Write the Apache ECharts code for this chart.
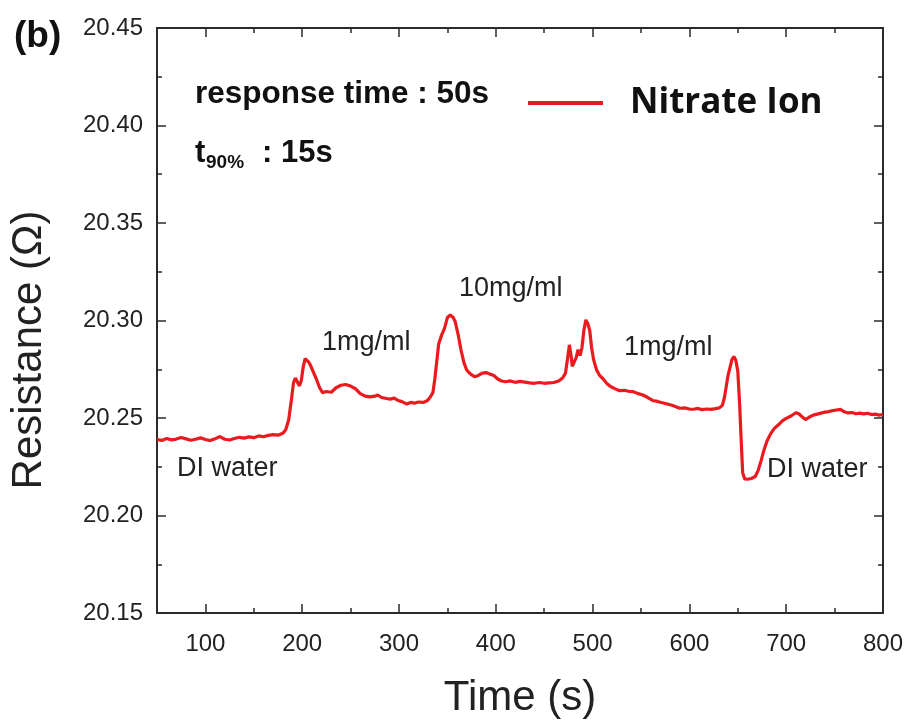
<!DOCTYPE html>
<html>
<head>
<meta charset="utf-8">
<script src="https://cdn.jsdelivr.net/npm/echarts@6/dist/echarts.min.js"></script>
<style>
  html, body { margin: 0; padding: 0; background: #fff; }
  #chart { width: 914px; height: 724px; }
</style>
</head>
<body>
<div id="chart"></div>
<script>
// Resistance response of the sensor to nitrate ion concentration steps
const seriesName = 'Nitrate Ion';

const timeSec = [
  50, 55, 60, 65, 70, 75, 80, 85, 90, 95, 100, 105, 110, 115, 120, 125, 130, 135, 140, 145,
  150, 155, 160, 165, 170, 175, 180, 183, 186, 189, 191, 193, 195, 197, 199, 201, 203, 205,
  207, 209, 212, 215, 218, 221, 225, 230, 235, 240, 245, 250, 255, 260, 265, 270, 275, 278,
  282, 287, 291, 295, 299, 303, 308, 312, 316, 320, 325, 329, 332, 335, 337, 339, 341, 344,
  347, 350, 353, 356, 358, 361, 364, 367, 370, 374, 378, 382, 386, 390, 394, 398, 402, 406,
  410, 415, 420, 425, 430, 435, 440, 445, 450, 455, 460, 465, 469, 472, 474, 476, 477.5, 479,
  481, 483, 485, 487, 489, 491, 493, 495, 497, 499, 501, 504, 507, 511, 515, 519, 524, 528,
  533, 538, 542, 547, 552, 557, 562, 567, 572, 577, 582, 586, 590, 595, 600, 604, 609, 613,
  618, 622, 627, 631, 634, 636, 638, 640, 642, 644, 646, 648, 650, 651, 652, 653, 654, 655,
  657, 660, 664, 668, 671, 674, 677, 680, 684, 688, 692, 696, 700, 705, 710, 713, 716, 720,
  724, 728, 732, 736, 740, 744, 748, 752, 756, 760, 764, 768, 772, 776, 780, 784, 788, 792,
  796, 800
];

const resistance = [
  20.2390, 20.2385, 20.2395, 20.2388, 20.2392, 20.2400, 20.2393, 20.2386, 20.2391, 20.2398,
  20.2390, 20.2384, 20.2393, 20.2405, 20.2391, 20.2387, 20.2395, 20.2401, 20.2397, 20.2403,
  20.2399, 20.2408, 20.2404, 20.2411, 20.2415, 20.2412, 20.2422, 20.2440, 20.2490, 20.2600,
  20.2680, 20.2705, 20.2695, 20.2665, 20.2690, 20.2760, 20.2805, 20.2800, 20.2785, 20.2765,
  20.2730, 20.2695, 20.2655, 20.2630, 20.2636, 20.2632, 20.2655, 20.2668, 20.2672, 20.2664,
  20.2650, 20.2625, 20.2612, 20.2608, 20.2612, 20.2618, 20.2605, 20.2600, 20.2597, 20.2602,
  20.2590, 20.2584, 20.2572, 20.2580, 20.2576, 20.2582, 20.2580, 20.2588, 20.2605, 20.2630,
  20.2700, 20.2790, 20.2880, 20.2925, 20.2960, 20.3015, 20.3028, 20.3015, 20.2995, 20.2930,
  20.2850, 20.2785, 20.2745, 20.2725, 20.2712, 20.2718, 20.2730, 20.2733, 20.2725, 20.2718,
  20.2700, 20.2690, 20.2686, 20.2690, 20.2683, 20.2688, 20.2684, 20.2680, 20.2678, 20.2682,
  20.2678, 20.2680, 20.2682, 20.2690, 20.2705, 20.2730, 20.2800, 20.2875, 20.2830, 20.2765,
  20.2775, 20.2810, 20.2850, 20.2820, 20.2860, 20.2950, 20.3003, 20.2985, 20.2950, 20.2860,
  20.2800, 20.2748, 20.2720, 20.2700, 20.2675, 20.2660, 20.2648, 20.2640, 20.2642, 20.2636,
  20.2635, 20.2625, 20.2618, 20.2605, 20.2590, 20.2585, 20.2578, 20.2572, 20.2565, 20.2558,
  20.2550, 20.2552, 20.2546, 20.2545, 20.2549, 20.2543, 20.2546, 20.2544, 20.2548, 20.2552,
  20.2565, 20.2600, 20.2660, 20.2720, 20.2760, 20.2800, 20.2815, 20.2795, 20.2740, 20.2650,
  20.2560, 20.2440, 20.2330, 20.2220, 20.2188, 20.2186, 20.2190, 20.2200, 20.2230, 20.2280,
  20.2335, 20.2380, 20.2420, 20.2448, 20.2465, 20.2485, 20.2498, 20.2510, 20.2527, 20.2522,
  20.2508, 20.2492, 20.2505, 20.2515, 20.2520, 20.2525, 20.2530, 20.2533, 20.2538, 20.2541,
  20.2544, 20.2532, 20.2526, 20.2528, 20.2522, 20.2525, 20.2521, 20.2524, 20.2518, 20.2520,
  20.2515, 20.2518
];

const xMajorTicks = [100, 200, 300, 400, 500, 600, 700, 800];
const xMinorTicks = [50, 150, 250, 350, 450, 550, 650, 750];
const yTickLabels = ['20.15', '20.20', '20.25', '20.30', '20.35', '20.40', '20.45'];

const xRange = [50, 800];
const yRange = [20.15, 20.45];

const annotations = [
  { text: 'DI water', x: 177, y: 469 },
  { text: '1mg/ml', x: 322, y: 343 },
  { text: '10mg/ml', x: 459, y: 289 },
  { text: '1mg/ml', x: 624, y: 348 },
  { text: 'DI water', x: 767, y: 470 }
];

const AXIS_COLOR = '#2b2b2b';
const LINE_COLOR = '#ea1a1f';
const TEXT_COLOR = '#222';
const TICK_FONT = 'Liberation Sans, Arial, sans-serif';

const chart = echarts.init(document.getElementById('chart'), null, { renderer: 'canvas' });

function xAxisDef(position, values, len, withLabels, withLine) {
  return {
    type: 'value', position: position, min: xRange[0], max: xRange[1],
    axisLine: { show: withLine, onZero: false, lineStyle: { color: AXIS_COLOR, width: 2 } },
    axisTick: { show: true, inside: true, length: len, customValues: values,
                lineStyle: { color: AXIS_COLOR, width: 1.5 } },
    axisLabel: withLabels
      ? { show: true, customValues: values, margin: 19, fontSize: 24,
          fontFamily: TICK_FONT, color: TEXT_COLOR }
      : { show: false },
    splitLine: { show: false }
  };
}

function yAxisDef(position, withLabels) {
  return {
    type: 'value', position: position, min: yRange[0], max: yRange[1], interval: 0.05,
    axisLine: { show: true, onZero: false, lineStyle: { color: AXIS_COLOR, width: 2 } },
    axisTick: { show: true, inside: true, length: 9, lineStyle: { color: AXIS_COLOR, width: 1.5 } },
    minorTick: { show: true, splitNumber: 2, length: 5, lineStyle: { color: AXIS_COLOR, width: 1.5 } },
    axisLabel: withLabels
      ? { show: true, margin: 14, fontSize: 24, fontFamily: TICK_FONT, color: TEXT_COLOR,
          formatter: v => yTickLabels.find(s => Math.abs(parseFloat(s) - v) < 1e-6) || v.toFixed(2) }
      : { show: false },
    splitLine: { show: false },
    minorSplitLine: { show: false }
  };
}

const option = {
  backgroundColor: '#fff',
  animation: false,
  grid: { left: 157, right: 31, top: 28, bottom: 111, containLabel: false },
  xAxis: [
    Object.assign(xAxisDef('bottom', xMajorTicks, 9, true, true), {
      name: 'Time (s)', nameLocation: 'middle', nameGap: 64,
      nameTextStyle: { fontSize: 42, fontFamily: TICK_FONT, color: TEXT_COLOR }
    }),
    xAxisDef('bottom', xMinorTicks, 5, false, false),
    xAxisDef('top', xMajorTicks, 9, false, true),
    xAxisDef('top', xMinorTicks, 5, false, false)
  ],
  yAxis: [yAxisDef('left', true), yAxisDef('right', false)],
  legend: {
    data: [seriesName],
    left: 523, top: 75,
    icon: 'rect', itemWidth: 75, itemHeight: 4,
    textStyle: { fontSize: 35, fontWeight: 'bold', fontFamily: 'Open Sans, sans-serif',
                 color: '#111', padding: [6, 0, 0, 22], lineHeight: 40 }
  },
  series: [{
    name: seriesName,
    type: 'line',
    xAxisIndex: 0, yAxisIndex: 0,
    data: timeSec.map((t, i) => [t, resistance[i]]),
    showSymbol: false, symbol: 'none',
    lineStyle: { color: LINE_COLOR, width: 3.2 },
    itemStyle: { color: LINE_COLOR },
    smooth: false
  }],
  graphic: [
    { type: 'text', x: 14, y: 37,
      style: { text: '(b)', font: 'bold 37px Liberation Sans, Arial, sans-serif', fill: '#111',
               verticalAlign: 'middle' } },
    { type: 'text', x: 29, y: 350, rotation: Math.PI / 2,
      style: { text: 'Resistance (Ω)', font: '42px Liberation Sans, Arial, sans-serif', fill: TEXT_COLOR,
               align: 'center', verticalAlign: 'middle' } },
    { type: 'text', x: 195, y: 94,
      style: { text: 'response time : 50s', font: 'bold 31.5px Liberation Sans, Arial, sans-serif',
               fill: '#111', verticalAlign: 'middle' } },
    { type: 'text', x: 195, y: 153,
      style: { text: 't', font: 'bold 31px Liberation Sans, Arial, sans-serif', fill: '#111',
               verticalAlign: 'middle' } },
    { type: 'text', x: 206, y: 163,
      style: { text: '90%', font: 'bold 19px Liberation Sans, Arial, sans-serif', fill: '#111',
               verticalAlign: 'middle' } },
    { type: 'text', x: 262, y: 153,
      style: { text: ': 15s', font: 'bold 31px Liberation Sans, Arial, sans-serif', fill: '#111',
               verticalAlign: 'middle' } }
  ].concat(annotations.map(a => ({
    type: 'text', x: a.x, y: a.y, z: 10,
    style: { text: a.text, font: '27px Liberation Sans, Arial, sans-serif', fill: TEXT_COLOR,
             verticalAlign: 'middle' }
  })))
};

chart.setOption(option);
</script>
</body>
</html>
